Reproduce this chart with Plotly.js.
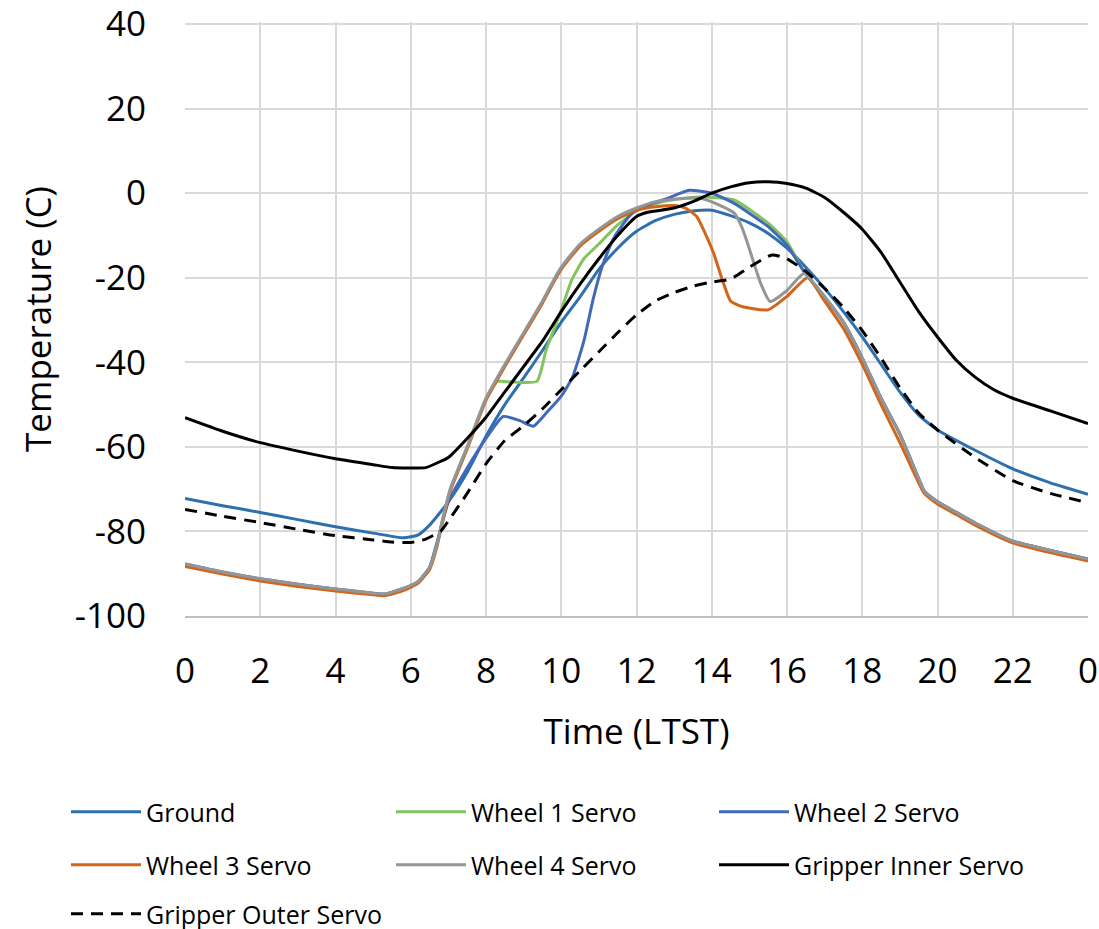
<!DOCTYPE html>
<html>
<head>
<meta charset="utf-8">
<script src="https://cdn.plot.ly/plotly-3.0.1.min.js"></script>
<style>html,body{margin:0;padding:0;background:#fff;}#chart{width:1099px;height:929px;}</style>
</head>
<body>
<div id="chart"></div>
<script>
// ---- tick labels ----
const xTickVals = [0, 2, 4, 6, 8, 10, 12, 14, 16, 18, 20, 22, 24];
const xTickText = ['0', '2', '4', '6', '8', '10', '12', '14', '16', '18', '20', '22', '0'];
const yTickVals = [-100, -80, -60, -40, -20, 0, 20, 40];
const yTickText = ['-100', '-80', '-60', '-40', '-20', '0', '20', '40'];

// ---- Ground ----
const groundT = [0, 1, 2, 3, 4, 5, 5.8, 6.2, 6.5, 7, 7.5, 8, 8.5, 9, 9.5, 10, 10.5, 11, 11.5, 12, 12.5, 13, 13.5, 14, 14.5, 15, 15.5, 16, 16.5, 17, 17.5, 18, 18.5, 19, 19.5, 20, 21, 22, 23, 24];
const groundC = [-72.2, -73.9, -75.5, -77.2, -78.9, -80.4, -81.5, -80.8, -78.5, -73, -66, -57.5, -50, -43.7, -37.2, -30.5, -24.5, -18, -13, -9, -6.5, -5, -4.2, -4, -5.3, -7, -9.5, -13, -17.5, -22.5, -28, -34, -40.5, -47, -52.5, -56, -60.8, -65.2, -68.5, -71.2];

// ---- Wheel 1 Servo ----
const wheel1T = [0, 1, 2, 3, 4, 5, 5.3, 5.8, 6.2, 6.5, 6.7, 6.85, 7.05, 7.5, 8, 8.3, 8.42, 9.35, 9.6, 9.97, 10.28, 10.6, 11, 11.5, 12, 12.5, 13, 13.7, 14.6, 15.5, 16, 16.45, 17, 17.5, 18, 18.5, 19, 19.5, 19.65, 20, 20.5, 21, 22, 23, 24];
const wheel1C = [-87.8, -89.7, -91.3, -92.6, -93.7, -94.7, -94.9, -93.6, -91.9, -88.5, -83, -77, -70, -60, -48.5, -44.5, -44.5, -44.5, -37, -28.4, -20.5, -15.5, -12, -7.5, -4.2, -2.5, -1.5, -0.9, -1.6, -7.1, -11.5, -18.5, -24.5, -30.5, -39, -48.5, -57, -67.5, -70.5, -73, -75.5, -78, -82.3, -84.5, -86.5];

// ---- Wheel 2 Servo ----
const wheel2T = [0, 1, 2, 3, 4, 5, 5.3, 5.8, 6.2, 6.5, 6.7, 7, 7.5, 8, 8.46, 8.9, 9.26, 9.6, 10, 10.3, 10.6, 10.85, 11.1, 11.4, 11.9, 12.4, 12.8, 13.4, 14, 14.6, 15.5, 16, 16.45, 17, 17.5, 18, 18.5, 19, 19.5, 19.65, 20, 20.5, 21, 22, 23, 24];
const wheel2C = [-87.7, -89.6, -91.2, -92.5, -93.6, -94.6, -94.8, -93.5, -91.8, -88.5, -82.5, -73, -65, -58, -52.8, -53.8, -55.1, -52, -48, -43.5, -35, -25, -17, -10.5, -4.5, -2.5, -1.3, 0.7, 0, -2.4, -7.9, -12.3, -18.5, -24.5, -30.5, -39, -48.5, -57, -67.5, -70.5, -73, -75.5, -78, -82.3, -84.5, -86.5];

// ---- Wheel 3 Servo ----
const wheel3T = [0, 1, 2, 3, 4, 5, 5.3, 5.8, 6.2, 6.5, 6.7, 6.85, 7.05, 7.5, 8, 8.5, 9, 9.5, 9.8, 10, 10.5, 11, 11.5, 12, 12.5, 13, 13.3, 13.6, 13.8, 14.05, 14.3, 14.5, 14.8, 15.5, 16, 16.55, 17, 17.5, 18, 18.5, 19, 19.5, 19.65, 20, 20.5, 21, 22, 23, 24];
const wheel3C = [-88.3, -90.1, -91.7, -93, -94.1, -95, -95.2, -94, -92.2, -89, -83.5, -77.5, -70.5, -60.5, -49, -41, -33.5, -26, -21, -18, -12.5, -9, -6, -4, -3.2, -2.9, -3.5, -5.5, -9, -14.2, -21, -25.5, -26.8, -27.6, -24.4, -20, -25.5, -32, -40.5, -50, -59, -68.5, -71, -73.5, -76, -78.5, -82.7, -85, -87];

// ---- Wheel 4 Servo ----
const wheel4T = [0, 1, 2, 3, 4, 5, 5.3, 5.8, 6.2, 6.5, 6.7, 6.85, 7.05, 7.5, 8, 8.5, 9, 9.5, 9.8, 10, 10.5, 11, 11.5, 12, 12.5, 13, 13.7, 14.2, 14.6, 14.8, 14.95, 15.3, 15.55, 16, 16.45, 17, 17.5, 18, 18.5, 19, 19.5, 19.65, 20, 20.5, 21, 22, 23, 24];
const wheel4C = [-87.7, -89.6, -91.2, -92.5, -93.6, -94.6, -94.8, -93.5, -91.8, -88.5, -83, -77, -70, -60, -48.5, -40.5, -33, -25.5, -20.5, -17.5, -12, -8.5, -5.5, -3.5, -2, -1.4, -1.2, -2.8, -4.7, -8, -11.8, -21.3, -25.6, -23, -19, -24.5, -30.5, -39, -48.5, -57, -67.5, -70.5, -73, -75.5, -78, -82.3, -84.5, -86.5];

// ---- Gripper Inner Servo ----
const innerT = [0, 1, 2, 3, 4, 5, 5.5, 6, 6.4, 6.8, 7, 7.5, 8, 8.5, 9, 9.5, 10, 10.5, 11, 11.5, 12, 12.3, 13, 13.5, 14, 14.5, 15, 15.5, 16, 16.5, 17, 17.5, 18, 18.5, 19, 19.5, 20, 20.5, 21, 21.5, 22, 23, 24];
const innerC = [-53.1, -56.3, -59, -61, -62.8, -64.2, -64.9, -65, -64.9, -63.4, -62.5, -58, -53, -47, -41, -35, -28, -21.5, -15.5, -10, -5.5, -4.5, -3.5, -2, 0, 1.5, 2.5, 2.7, 2.3, 1.2, -1, -4.5, -8.5, -14, -21, -28, -34, -39.5, -43.5, -46.5, -48.5, -51.5, -54.5];

// ---- Gripper Outer Servo ----
const outerT = [0, 1, 2, 3, 4, 5, 5.5, 6, 6.4, 6.8, 7, 7.5, 8, 8.5, 9, 9.5, 10, 10.5, 11, 11.5, 12, 12.5, 13, 13.5, 14, 14.5, 15, 15.6, 16, 16.5, 17, 17.5, 18, 18.5, 19, 19.5, 20, 21, 22, 23, 24];
const outerC = [-74.8, -76.4, -77.9, -79.5, -81, -82, -82.5, -82.6, -81.8, -79.9, -77.5, -71, -64, -58.5, -55, -51, -46.5, -42, -37.5, -33, -28.8, -25.5, -23.5, -22, -21, -20.3, -17.5, -14.6, -15.5, -18.5, -22.5, -27, -32.5, -39, -46, -52, -56, -62.5, -68, -71, -73.2];

const seriesNames = ['Ground', 'Wheel 1 Servo', 'Wheel 2 Servo', 'Wheel 3 Servo', 'Wheel 4 Servo', 'Gripper Inner Servo', 'Gripper Outer Servo'];
const seriesT = [groundT, wheel1T, wheel2T, wheel3T, wheel4T, innerT, outerT];
const seriesC = [groundC, wheel1C, wheel2C, wheel3C, wheel4C, innerC, outerC];
const colors = ['#2E70AE', '#82C45E', '#4169B8', '#D2641C', '#959595', '#000000', '#000000'];
const dashes = ['solid', 'solid', 'solid', 'solid', 'solid', 'solid', '12px,8px'];

const FONT = '"Open Sans", "Noto Sans", sans-serif';

// one legend box per entry, laid out in a 3-column grid (container pixels)
const legendIds = ['legend', 'legend2', 'legend3', 'legend4', 'legend5', 'legend6', 'legend7'];
const legendColPx = [66, 391, 714];
const legendRowPx = [812, 865, 914];

const traces = seriesNames.map((n, i) => ({
  type: 'scatter',
  mode: 'lines',
  name: n,
  x: seriesT[i],
  y: seriesC[i],
  line: {color: colors[i], width: 3, dash: dashes[i], shape: 'spline', smoothing: 0.5},
  legend: legendIds[i],
  hoverinfo: 'x+y+name'
}));

const layout = {
  width: 1099, height: 929,
  margin: {l: 185, r: 11, t: 22, b: 313},
  paper_bgcolor: '#fff', plot_bgcolor: '#fff',
  font: {family: FONT, color: '#000'},
  xaxis: {
    range: [0, 24],
    tickmode: 'array', tickvals: xTickVals, ticktext: xTickText,
    showgrid: true, gridcolor: '#D9D9D9', gridwidth: 2,
    zeroline: false,
    showline: true, linecolor: '#BFBFBF', linewidth: 2,
    ticks: '', ticklabelstandoff: 23, ticklabeloverflow: 'allow',
    tickfont: {family: FONT, size: 35, color: '#000'},
    title: {text: 'Time (LTST)', font: {family: FONT, size: 35, color: '#000'}, standoff: 27},
    fixedrange: true
  },
  yaxis: {
    range: [-100, 40.5],
    tickmode: 'array', tickvals: yTickVals, ticktext: yTickText,
    showgrid: true, gridcolor: '#D9D9D9', gridwidth: 2,
    zeroline: false,
    showline: false,
    ticks: '', ticklabelstandoff: 38, ticklabeloverflow: 'allow',
    tickfont: {family: FONT, size: 35, color: '#000'},
    title: {text: 'Temperature (C)', font: {family: FONT, size: 35, color: '#000'}, standoff: 12},
    fixedrange: true
  },
  showlegend: true
};

legendIds.forEach((id, i) => {
  layout[id] = {
    orientation: 'h',
    xref: 'container', yref: 'container',
    x: legendColPx[i % 3] / 1099,
    y: 1 - legendRowPx[Math.floor(i / 3)] / 929,
    xanchor: 'left', yanchor: 'middle',
    itemwidth: 70,
    font: {family: FONT, size: 25, color: '#000'},
    bgcolor: 'rgba(0,0,0,0)'
  };
});

Plotly.newPlot('chart', traces, layout, {displayModeBar: false, responsive: false});
</script>
</body>
</html>
